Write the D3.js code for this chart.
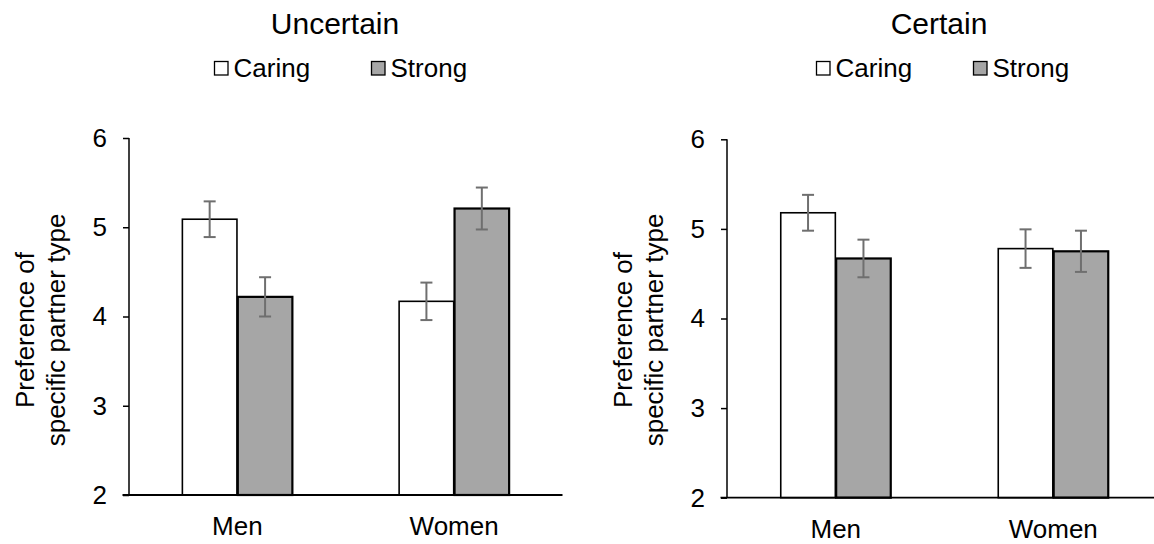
<!DOCTYPE html>
<html>
<head>
<meta charset="utf-8">
<script src="https://cdn.jsdelivr.net/npm/d3@7"></script>
<style>
  html, body { margin: 0; padding: 0; background: #fff; overflow: hidden; }
  svg { display: block; }
  text { font-family: "Liberation Sans", Arial, sans-serif; fill: #000; }
</style>
</head>
<body>
<svg id="chart" width="1154" height="544"></svg>
<script>
// ---- data ----
const categories = ["Men", "Women"];
const seriesNames = ["Caring", "Strong"];
const yTicks = [2, 3, 4, 5, 6];

const uncertainCaring = [5.09, 4.17];
const uncertainStrong = [4.22, 5.21];
const uncertainCaringErr = [0.20, 0.21];
const uncertainStrongErr = [0.22, 0.235];

const certainCaring = [5.18, 4.78];
const certainStrong = [4.67, 4.75];
const certainCaringErr = [0.20, 0.215];
const certainStrongErr = [0.21, 0.23];

const panelTitles = ["Uncertain", "Certain"];
const yLabelLines = ["Preference of", "specific partner type"];

const seriesFill = { Caring: "#ffffff", Strong: "#a6a6a6" };

const panels = [
  { title: panelTitles[0], means: [uncertainCaring, uncertainStrong], errs: [uncertainCaringErr, uncertainStrongErr],
    left: 129, right: 562.5, top: 138, bottom: 495, titleX: 335, legendX: 214 },
  { title: panelTitles[1], means: [certainCaring, certainStrong], errs: [certainCaringErr, certainStrongErr],
    left: 727, right: 1162, top: 139.3, bottom: 497.7, titleX: 939, legendX: 816 }
];

const FONT = '"Liberation Sans", Arial, sans-serif';
const svg = d3.select("#chart");

panels.forEach(p => {
  const g = svg.append("g");
  const y = d3.scaleLinear().domain([2, 6]).range([p.bottom, p.top]);
  const x0 = d3.scaleBand().domain(categories).range([p.left, p.right]).padding(0);
  const bw = x0.bandwidth();
  const x1 = d3.scaleBand().domain(seriesNames).range([bw / 2 - 55, bw / 2 + 55]).paddingInner(0.015);

  // title
  g.append("text").attr("x", p.titleX).attr("y", 34).attr("text-anchor", "middle")
    .style("font-size", "30px").text(p.title);

  // legend
  const leg = g.append("g").attr("transform", `translate(${p.legendX},0)`);
  seriesNames.forEach((s, i) => {
    const lx = i * 157;
    leg.append("rect").attr("x", lx + 0.5).attr("y", 61.5).attr("width", 13.5).attr("height", 13.5)
      .attr("fill", seriesFill[s]).attr("stroke", "#000").attr("stroke-width", 1.3);
    leg.append("text").attr("x", lx + 19.5).attr("y", 77).style("font-size", "26px").text(s);
  });

  // bars
  seriesNames.forEach((s, si) => {
    categories.forEach((c, ci) => {
      const v = p.means[si][ci];
      g.append("rect")
        .attr("x", x0(c) + x1(s))
        .attr("y", y(v))
        .attr("width", x1.bandwidth())
        .attr("height", y(2) - y(v))
        .attr("fill", seriesFill[s])
        .attr("stroke", "#000")
        .attr("stroke-width", s === "Strong" ? 2.2 : 1.6);
    });
  });

  // error bars
  seriesNames.forEach((s, si) => {
    categories.forEach((c, ci) => {
      const v = p.means[si][ci], e = p.errs[si][ci];
      const cx = x0(c) + x1(s) + x1.bandwidth() / 2;
      const eg = g.append("g").attr("stroke", "#6f6f6f").attr("stroke-width", 2);
      eg.append("line").attr("x1", cx).attr("x2", cx).attr("y1", y(v + e)).attr("y2", y(v - e));
      eg.append("line").attr("x1", cx - 6).attr("x2", cx + 6).attr("y1", y(v + e)).attr("y2", y(v + e));
      eg.append("line").attr("x1", cx - 6).attr("x2", cx + 6).attr("y1", y(v - e)).attr("y2", y(v - e));
    });
  });

  // y axis
  const yAxis = d3.axisLeft(y).tickValues(yTicks).tickSize(6).tickPadding(16).tickFormat(d3.format("d"));
  const ya = g.append("g").attr("transform", `translate(${p.left},0)`).call(yAxis);
  ya.select(".domain").attr("stroke", "#000").attr("stroke-width", 1.5).attr("d", `M0,${p.top}V${p.bottom}`);
  ya.selectAll(".tick line").attr("stroke", "#000").attr("stroke-width", 1.5);
  ya.selectAll(".tick text").style("font-size", "26px").style("font-family", FONT).attr("fill", "#000");

  // x axis
  const xAxis = d3.axisBottom(x0).tickSize(0).tickPadding(22);
  const xa = g.append("g").attr("transform", `translate(0,${p.bottom})`).call(xAxis);
  xa.select(".domain").attr("stroke", "#000").attr("stroke-width", 1.8).attr("d", `M${p.left - 6.5},0H${p.right}`);
  xa.selectAll(".tick text").style("font-size", "26px").style("font-family", FONT).attr("fill", "#000");

  // y label
  const cy = 330;
  const yl = g.append("text").attr("transform", `translate(${p.left - 95},${cy}) rotate(-90)`)
    .attr("text-anchor", "middle").style("font-size", "26px");
  yl.append("tspan").attr("x", 0).attr("y", 0).text(yLabelLines[0]);
  yl.append("tspan").attr("x", 0).attr("y", 31).text(yLabelLines[1]);
});
</script>
</body>
</html>
